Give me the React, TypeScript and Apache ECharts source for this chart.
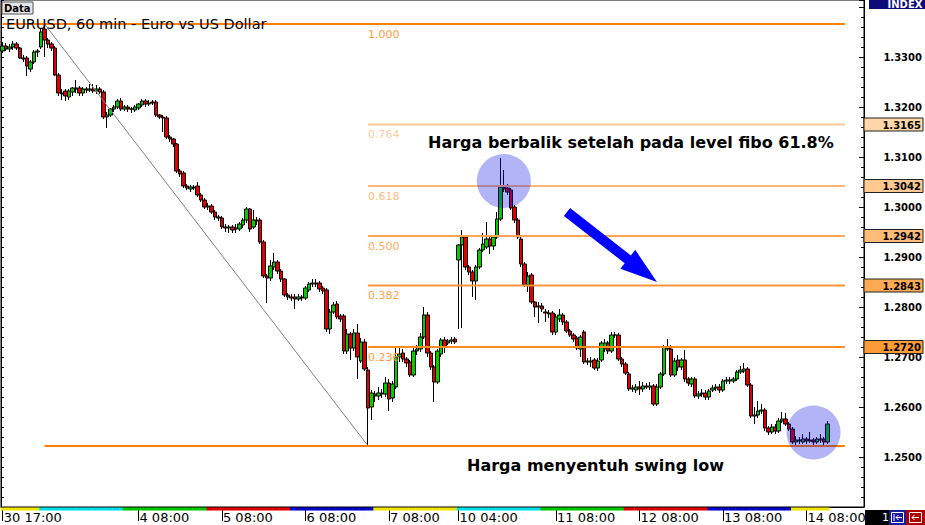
import React, { useEffect, useRef } from "react";
import * as echarts from "echarts";

type Bar = [number, number, number, number]; // [open, high, low, close]

// ---- EURUSD H1 candles, grouped by trading day ----
const day30: Bar[] = [
  [1.3312, 1.333, 1.3308, 1.3322], [1.3322, 1.3328, 1.3312, 1.3316], [1.3316, 1.3326, 1.331, 1.332],
  [1.332, 1.3332, 1.3314, 1.3326], [1.3326, 1.333, 1.3314, 1.3318], [1.3318, 1.332, 1.3296, 1.3298],
  [1.3298, 1.3304, 1.329, 1.3296],
];
const day03: Bar[] = [
  [1.3298, 1.3302, 1.3262, 1.3282], [1.3276, 1.3294, 1.327, 1.329], [1.329, 1.3314, 1.3286, 1.331],
  [1.331, 1.3316, 1.33, 1.3312], [1.332, 1.3356, 1.3316, 1.335], [1.3356, 1.3366, 1.33, 1.3334],
  [1.3334, 1.3338, 1.3318, 1.3326], [1.3326, 1.333, 1.3312, 1.3318], [1.3318, 1.3322, 1.3262, 1.3264],
  [1.3264, 1.3268, 1.3222, 1.3228], [1.3228, 1.3236, 1.3214, 1.3226], [1.3232, 1.3236, 1.3212, 1.3222],
  [1.322, 1.3236, 1.3214, 1.3232], [1.323, 1.324, 1.3222, 1.3238], [1.3238, 1.3254, 1.3228, 1.3236],
  [1.3238, 1.3242, 1.3222, 1.3228], [1.3228, 1.324, 1.3222, 1.3236], [1.3236, 1.324, 1.3228, 1.3234],
  [1.3234, 1.3246, 1.323, 1.3236], [1.3236, 1.3246, 1.3228, 1.3232], [1.3232, 1.3244, 1.3226, 1.3236],
  [1.3236, 1.324, 1.3226, 1.323], [1.323, 1.3234, 1.3176, 1.318], [1.318, 1.319, 1.3158, 1.3184],
];
const day04: Bar[] = [
  [1.3184, 1.3198, 1.318, 1.3196], [1.3196, 1.3204, 1.319, 1.32], [1.32, 1.3216, 1.3196, 1.3212],
  [1.3212, 1.3218, 1.3192, 1.3196], [1.3196, 1.3204, 1.3192, 1.32], [1.32, 1.3204, 1.319, 1.3196],
  [1.3196, 1.32, 1.3188, 1.3196], [1.3194, 1.3204, 1.319, 1.32], [1.3198, 1.3208, 1.3194, 1.3206],
  [1.3204, 1.3216, 1.32, 1.3212], [1.3212, 1.3216, 1.32, 1.3206], [1.3206, 1.3214, 1.3202, 1.3208],
  [1.321, 1.3214, 1.3204, 1.3208], [1.321, 1.3214, 1.318, 1.3184], [1.3184, 1.3186, 1.3176, 1.318],
  [1.318, 1.3184, 1.315, 1.3178], [1.3178, 1.3182, 1.3136, 1.314], [1.314, 1.3144, 1.313, 1.3136],
  [1.3136, 1.3138, 1.312, 1.3126], [1.3126, 1.3128, 1.3068, 1.3072], [1.3072, 1.3076, 1.306, 1.3066],
  [1.3068, 1.3072, 1.3038, 1.3042], [1.3042, 1.3046, 1.3034, 1.3038], [1.3036, 1.3044, 1.303, 1.304],
];
const day05: Bar[] = [
  [1.304, 1.3044, 1.3034, 1.3038], [1.3042, 1.305, 1.302, 1.3024], [1.3024, 1.3028, 1.301, 1.3014],
  [1.3014, 1.3018, 1.2996, 1.3], [1.3, 1.3008, 1.2994, 1.3002], [1.3002, 1.3006, 1.2986, 1.299],
  [1.299, 1.2994, 1.2974, 1.298], [1.298, 1.2984, 1.2972, 1.2978], [1.2978, 1.2982, 1.2956, 1.296],
  [1.296, 1.2966, 1.295, 1.2958], [1.2958, 1.2964, 1.2948, 1.296], [1.296, 1.2964, 1.2948, 1.2954],
  [1.2956, 1.2966, 1.2948, 1.2958], [1.2956, 1.297, 1.2952, 1.2966], [1.2964, 1.2978, 1.2958, 1.2974],
  [1.2974, 1.3, 1.2968, 1.2996], [1.2996, 1.2998, 1.295, 1.2956], [1.296, 1.2994, 1.2956, 1.2974],
  [1.2974, 1.298, 1.2964, 1.2972], [1.2974, 1.2978, 1.2926, 1.293], [1.293, 1.2934, 1.2858, 1.2862],
  [1.2862, 1.2866, 1.2808, 1.2858], [1.2858, 1.2894, 1.2852, 1.2882], [1.288, 1.2908, 1.2874, 1.289],
];
const day06: Bar[] = [
  [1.289, 1.2894, 1.2866, 1.2872], [1.2872, 1.2876, 1.285, 1.2856], [1.2856, 1.2858, 1.282, 1.2824],
  [1.2824, 1.2828, 1.2814, 1.282], [1.282, 1.2826, 1.2812, 1.2818], [1.282, 1.2826, 1.2796, 1.2816],
  [1.2816, 1.2826, 1.2812, 1.282], [1.282, 1.2824, 1.2812, 1.2818], [1.2818, 1.2842, 1.2814, 1.2838],
  [1.2834, 1.285, 1.283, 1.2846], [1.2846, 1.2856, 1.284, 1.2848], [1.2848, 1.2856, 1.284, 1.2846],
  [1.2848, 1.2852, 1.283, 1.2836], [1.2838, 1.2842, 1.2826, 1.2832], [1.2834, 1.2838, 1.275, 1.2756],
  [1.2756, 1.2796, 1.2746, 1.279], [1.279, 1.281, 1.2786, 1.2804], [1.2806, 1.2812, 1.2776, 1.278],
  [1.2782, 1.2786, 1.277, 1.2776], [1.2782, 1.2786, 1.2706, 1.2712], [1.2712, 1.2756, 1.2706, 1.2746],
  [1.2746, 1.275, 1.2694, 1.2718], [1.2718, 1.2756, 1.2712, 1.2748], [1.2748, 1.2766, 1.2656, 1.27],
];
const day07: Bar[] = [
  [1.2692, 1.2738, 1.2688, 1.273], [1.273, 1.2736, 1.2672, 1.2676], [1.2674, 1.268, 1.2522, 1.2598],
  [1.26, 1.2634, 1.2574, 1.2628], [1.2626, 1.2632, 1.261, 1.2622], [1.2622, 1.264, 1.2614, 1.2628],
  [1.2628, 1.2636, 1.2618, 1.2626], [1.2626, 1.266, 1.262, 1.2648], [1.2648, 1.2656, 1.2592, 1.2616],
  [1.2618, 1.2652, 1.261, 1.2646], [1.264, 1.2718, 1.2636, 1.27], [1.27, 1.2718, 1.269, 1.2706],
  [1.2708, 1.2716, 1.269, 1.2696], [1.2696, 1.27, 1.268, 1.2688], [1.269, 1.2694, 1.266, 1.2664],
  [1.2664, 1.272, 1.266, 1.2712], [1.2712, 1.2724, 1.2704, 1.2716], [1.2716, 1.2748, 1.271, 1.274],
  [1.274, 1.28, 1.2736, 1.2784], [1.2784, 1.279, 1.27, 1.2708], [1.2708, 1.2712, 1.2674, 1.268],
  [1.268, 1.2684, 1.261, 1.265], [1.265, 1.2716, 1.2646, 1.2712], [1.2706, 1.2738, 1.27, 1.2734],
];
const day10: Bar[] = [
  [1.2734, 1.274, 1.2708, 1.272], [1.2728, 1.2736, 1.2724, 1.2732], [1.2732, 1.274, 1.2726, 1.2734],
  [1.2736, 1.274, 1.2726, 1.273], [1.2894, 1.2926, 1.2756, 1.2924], [1.2924, 1.2954, 1.2758, 1.294],
  [1.294, 1.2944, 1.2874, 1.288], [1.288, 1.2884, 1.2864, 1.287], [1.287, 1.2874, 1.282, 1.2852],
  [1.2852, 1.2884, 1.2814, 1.288], [1.288, 1.2918, 1.2876, 1.2914], [1.2914, 1.2948, 1.291, 1.2926],
  [1.292, 1.297, 1.2916, 1.2936], [1.2936, 1.294, 1.2906, 1.2922], [1.2922, 1.2944, 1.2914, 1.294],
  [1.294, 1.299, 1.2936, 1.2976], [1.2976, 1.3098, 1.2972, 1.304], [1.304, 1.3074, 1.303, 1.3036],
  [1.3038, 1.3046, 1.3024, 1.303], [1.3034, 1.3038, 1.2994, 1.2998], [1.3, 1.3004, 1.2968, 1.2974],
  [1.2974, 1.2978, 1.2936, 1.294], [1.2936, 1.294, 1.288, 1.2886], [1.2886, 1.289, 1.284, 1.2844],
];
const day11: Bar[] = [
  [1.2844, 1.287, 1.283, 1.2862], [1.2864, 1.2868, 1.2806, 1.281], [1.281, 1.2812, 1.278, 1.28],
  [1.28, 1.281, 1.2768, 1.2802], [1.2802, 1.2808, 1.279, 1.2796], [1.279, 1.2796, 1.277, 1.2788],
  [1.2788, 1.2794, 1.2778, 1.2786], [1.2788, 1.2792, 1.2744, 1.275], [1.275, 1.2786, 1.2744, 1.278],
  [1.2776, 1.2796, 1.277, 1.2784], [1.2784, 1.2788, 1.2764, 1.277], [1.277, 1.2774, 1.2748, 1.2752],
  [1.2752, 1.2756, 1.274, 1.2744], [1.2744, 1.2748, 1.273, 1.2736], [1.2738, 1.2742, 1.2714, 1.2718],
  [1.2716, 1.2744, 1.27, 1.274], [1.275, 1.2754, 1.2686, 1.269], [1.269, 1.2698, 1.2684, 1.2692],
  [1.2692, 1.27, 1.268, 1.269], [1.2694, 1.2698, 1.2674, 1.2678], [1.2678, 1.2698, 1.2672, 1.2692],
  [1.2694, 1.2732, 1.269, 1.2728], [1.2716, 1.2736, 1.271, 1.2728], [1.2728, 1.2732, 1.2706, 1.2712],
];
const day12: Bar[] = [
  [1.2712, 1.275, 1.2708, 1.2744], [1.2744, 1.275, 1.2738, 1.2744], [1.2744, 1.2748, 1.2692, 1.2696],
  [1.2696, 1.27, 1.268, 1.2686], [1.2686, 1.269, 1.2664, 1.2668], [1.2666, 1.267, 1.2632, 1.2636],
  [1.2636, 1.2644, 1.263, 1.2638], [1.2634, 1.2646, 1.2628, 1.264], [1.264, 1.2652, 1.2624, 1.2636],
  [1.2636, 1.265, 1.263, 1.2642], [1.2642, 1.2648, 1.2636, 1.264], [1.264, 1.265, 1.2634, 1.2642],
  [1.2642, 1.2646, 1.2602, 1.2606], [1.2606, 1.2646, 1.2602, 1.264], [1.264, 1.267, 1.2636, 1.2666],
  [1.2666, 1.2724, 1.2662, 1.272], [1.272, 1.2736, 1.2712, 1.2716], [1.2716, 1.2724, 1.266, 1.2664],
  [1.2664, 1.2698, 1.266, 1.2692], [1.2694, 1.2704, 1.2672, 1.268], [1.268, 1.2698, 1.2674, 1.2694],
  [1.2694, 1.2714, 1.265, 1.2656], [1.2656, 1.266, 1.2642, 1.2648], [1.2646, 1.266, 1.264, 1.2656],
];
const day13: Bar[] = [
  [1.2656, 1.266, 1.2618, 1.2622], [1.2622, 1.2632, 1.2616, 1.2626], [1.2626, 1.2636, 1.262, 1.2628],
  [1.2628, 1.2634, 1.2614, 1.262], [1.262, 1.2636, 1.2614, 1.2632], [1.2634, 1.2644, 1.263, 1.2638],
  [1.2638, 1.2646, 1.2632, 1.264], [1.264, 1.2646, 1.2628, 1.2634], [1.2634, 1.2656, 1.263, 1.2652],
  [1.2652, 1.266, 1.2646, 1.2654], [1.2654, 1.266, 1.2646, 1.2652], [1.2652, 1.266, 1.2648, 1.2656],
  [1.2656, 1.2674, 1.2652, 1.267], [1.267, 1.2682, 1.2666, 1.2674], [1.2672, 1.2688, 1.2668, 1.2676],
  [1.2676, 1.268, 1.264, 1.2644], [1.2644, 1.2648, 1.2578, 1.2582], [1.2582, 1.26, 1.2566, 1.2584],
  [1.2584, 1.2612, 1.2578, 1.2592], [1.2592, 1.2606, 1.2586, 1.2594], [1.2594, 1.2598, 1.2552, 1.2558],
  [1.2558, 1.2562, 1.2544, 1.255], [1.255, 1.2566, 1.2546, 1.256], [1.256, 1.2566, 1.2546, 1.2552],
];
const day14: Bar[] = [
  [1.2552, 1.2578, 1.2548, 1.2572], [1.2572, 1.259, 1.2568, 1.2576], [1.2576, 1.2588, 1.2562, 1.2566],
  [1.2566, 1.257, 1.2552, 1.2556], [1.2556, 1.256, 1.2526, 1.253], [1.253, 1.2542, 1.252, 1.2534],
  [1.2534, 1.254, 1.2526, 1.2532], [1.253, 1.2546, 1.2526, 1.2536], [1.2536, 1.254, 1.2526, 1.2532],
  [1.2532, 1.255, 1.2528, 1.2534], [1.2534, 1.2538, 1.2524, 1.253], [1.253, 1.254, 1.2526, 1.2536],
  [1.2536, 1.2546, 1.2528, 1.2534], [1.2536, 1.254, 1.2524, 1.253], [1.253, 1.2572, 1.2526, 1.2566],
];

const sessions = [
  { day: "30", firstHour: 17, bars: day30 },
  { day: "3", firstHour: 0, bars: day03 },
  { day: "4", firstHour: 0, bars: day04 },
  { day: "5", firstHour: 0, bars: day05 },
  { day: "6", firstHour: 0, bars: day06 },
  { day: "7", firstHour: 0, bars: day07 },
  { day: "10", firstHour: 0, bars: day10 },
  { day: "11", firstHour: 0, bars: day11 },
  { day: "12", firstHour: 0, bars: day12 },
  { day: "13", firstHour: 0, bars: day13 },
  { day: "14", firstHour: 0, bars: day14 },
];
const emptySlots = 10; // chart shift on the right

const xTickLabels = [
  "30 17:00", "4 08:00", "5 08:00", "6 08:00", "7 08:00",
  "10 04:00", "11 08:00", "12 08:00", "13 08:00", "14 08:00",
];

// Fibonacci retracement
const fibRatios = [1, 0.764, 0.618, 0.5, 0.382, 0.236, 0];
const fibPrices = [1.3366, 1.3165, 1.3042, 1.2942, 1.2843, 1.272, 1.2522];
const swingHighIdx = 12;
const swingLowIdx = 105;
const fibEndIdx = 242;

const highlightCircles = [
  [144, 1.3052],
  [233, 1.2549],
];

const chartTitle = "EURUSD, 60 min - Euro vs US Dollar";
const noteTop = "Harga berbalik setelah pada level fibo 61.8%";
const noteBottom = "Harga menyentuh swing low";

// styles
const FONT = '"DejaVu Sans", Verdana, sans-serif';
const fibLineColors = ["#ff7f00", "#ffc898", "#ffb676", "#ffa454", "#ff9538", "#ff8a1e", "#ff7f00"];
const fibLabelColors = ["#ff9a3c", "#ffcca0", "#ffbc80", "#ffac62", "#ffa24c", "#ff9c40", ""];
const fibBoxColors = ["", "#ffd7a8", "#ffc991", "#ffbb78", "#ffaa55", "#ff9b36", ""];
const stripColors = ["#f0e400", "#00e0e8", "#00c800", "#e00000", "#0000c8"];

export default function App() {
  const ref = useRef<HTMLDivElement>(null);

  useEffect(() => {
    if (!ref.current) return;
    document.body.style.margin = "0";
    const chart = echarts.init(ref.current, undefined, { renderer: "svg" });

    const categories: string[] = [];
    const candles: number[][] = [];
    const strip: number[][] = [];
    let sess = 0;
    sessions.forEach((s) => {
      s.bars.forEach((b, k) => {
        const h = s.firstHour + k;
        if (h === 4 && categories.length > 0) sess++;
        const idx = categories.length;
        categories.push(`${s.day} ${String(h).padStart(2, "0")}:00`);
        candles.push([b[0], b[3], b[2], b[1]]);
        strip.push([idx, 1.25, sess % stripColors.length]);
      });
    });
    for (let k = 0; k < emptySlots; k++) categories.push(`+${k + 1}`);

    const fibStart = (k: number) =>
      fibRatios[k] === 1 ? 0 : fibRatios[k] === 0 ? swingHighIdx : swingLowIdx;
    const fibData = fibPrices.map((p, k) => [fibStart(k), p, k]);

    const showLabel = (_i: number, v: string) => xTickLabels.includes(v);

    const yBase = {
      type: "value",
      min: 1.24,
      max: 1.3414,
      interval: 0.01,
      scale: true,
      splitLine: { show: false },
      axisLine: { show: true, lineStyle: { color: "#000", width: 1 } },
    };

    const option: any = {
      animation: false,
      backgroundColor: "#fff",
      textStyle: { fontFamily: FONT },
      grid: {
        left: 1,
        right: 61,
        top: 0,
        bottom: 18,
        show: true,
        borderColor: "#000",
        borderWidth: 1,
        backgroundColor: "#fff",
      },
      xAxis: {
        type: "category",
        data: categories,
        boundaryGap: true,
        axisLine: { show: true, lineStyle: { color: "#000" } },
        axisTick: {
          show: true,
          alignWithLabel: true,
          interval: showLabel,
          length: 14,
          lineStyle: { color: "#000" },
        },
        axisLabel: {
          show: true,
          interval: showLabel,
          align: "left",
          margin: 4,
          padding: [0, 0, 0, 1],
          fontSize: 13,
          fontFamily: FONT,
          color: "#000",
        },
        splitLine: { show: false },
      },
      yAxis: [
        {
          ...yBase,
          position: "right",
          axisTick: { show: true, inside: true, length: 5, lineStyle: { color: "#000" } },
          minorTick: { show: true, splitNumber: 5, length: 3, lineStyle: { color: "#000" } },
          axisLabel: {
            show: true,
            inside: false,
            margin: 58,
            align: "right",
            fontFamily: FONT,
            fontWeight: "bold",
            fontSize: 10,
            color: "#000",
            formatter: (v: number) => (v > 1.245 && v < 1.335 ? v.toFixed(4) : ""),
          },
        },
        {
          ...yBase,
          position: "left",
          axisTick: { show: true, inside: true, length: 3, lineStyle: { color: "#000" } },
          minorTick: { show: true, splitNumber: 5, length: 3, lineStyle: { color: "#000" } },
          axisLabel: { show: false },
        },
      ],
      series: [
        {
          name: "EURUSD",
          type: "candlestick",
          data: candles,
          barWidth: 4,
          z: 2,
          itemStyle: {
            color: "#00cc00",
            color0: "#e00000",
            borderColor: "#000",
            borderColor0: "#000",
            borderColorDoji: "#000",
            borderWidth: 1,
          },
        },
        {
          name: "trend",
          type: "line",
          data: [
            [swingHighIdx, fibPrices[0]],
            [swingLowIdx, fibPrices[fibPrices.length - 1]],
          ],
          symbol: "none",
          z: 3,
          lineStyle: { color: "#808080", width: 1 },
        },
        {
          name: "sessions",
          type: "custom",
          data: strip,
          z: 3,
          renderItem: (params: any, api: any) => {
            const c = api.coord([api.value(0), 1.25]);
            const w = api.size([1, 0])[0];
            const cs = params.coordSys;
            return {
              type: "rect",
              shape: { x: c[0] - w / 2, y: cs.y + cs.height + 0.5, width: w + 0.4, height: 3 },
              style: { fill: stripColors[api.value(2)] },
            };
          },
        },
        {
          name: "fibo",
          type: "custom",
          data: fibData,
          z: 4,
          renderItem: (params: any, api: any) => {
            const start = api.value(0);
            const price = api.value(1);
            const k = api.value(2);
            const p0 = api.coord([start, price]);
            const p1 = api.coord([fibEndIdx, price]);
            const lx = api.coord([swingLowIdx, price])[0];
            const cs = params.coordSys;
            const children: any[] = [
              {
                type: "line",
                shape: { x1: p0[0], y1: p0[1], x2: p1[0], y2: p1[1] },
                style: { stroke: fibLineColors[k], lineWidth: 2 },
              },
            ];
            if (fibLabelColors[k]) {
              children.push({
                type: "text",
                x: lx,
                y: p0[1] + 10,
                style: {
                  text: fibRatios[k].toFixed(3),
                  fill: fibLabelColors[k],
                  font: `11px ${FONT}`,
                  align: "left",
                  verticalAlign: "middle",
                },
              });
            }
            if (fibBoxColors[k]) {
              const bx = cs.x + cs.width;
              children.push({
                type: "rect",
                shape: { x: bx, y: p0[1] - 6.5, width: 59, height: 13 },
                style: { fill: fibBoxColors[k], stroke: "#222", lineWidth: 1 },
              });
              children.push({
                type: "text",
                x: bx + 57,
                y: p0[1] + 0.5,
                style: {
                  text: price.toFixed(4),
                  fill: "#000",
                  font: `bold 10px ${FONT}`,
                  align: "right",
                  verticalAlign: "middle",
                },
              });
            }
            return { type: "group", children };
          },
        },
        {
          name: "highlights",
          type: "custom",
          data: highlightCircles,
          z: 5,
          renderItem: (_params: any, api: any) => {
            const c = api.coord([api.value(0), api.value(1)]);
            return {
              type: "circle",
              shape: { cx: c[0], cy: c[1], r: 27 },
              style: { fill: "rgba(20,20,230,0.32)" },
            };
          },
        },
      ],
      graphic: [
        {
          type: "text",
          x: 6,
          y: 24,
          z: 100,
          style: { text: chartTitle, font: `14.5px ${FONT}`, fill: "#000", verticalAlign: "middle" },
        },
        {
          type: "rect",
          z: 100,
          shape: { x: 2, y: 2, width: 31, height: 12 },
          style: { fill: "#e6e6e6", stroke: "#555", lineWidth: 1 },
        },
        {
          type: "text",
          x: 4,
          y: 8.5,
          z: 101,
          style: { text: "Data", font: `bold 10px ${FONT}`, fill: "#000", verticalAlign: "middle" },
        },
        {
          type: "rect",
          z: 100,
          shape: { x: 869, y: 0, width: 56, height: 9 },
          style: { fill: "#0b0b7a" },
        },
        {
          type: "text",
          x: 905,
          y: 4,
          z: 101,
          style: {
            text: "INDEX",
            font: `bold 10px ${FONT}`,
            fill: "#fff",
            align: "center",
            verticalAlign: "middle",
          },
        },
        {
          type: "polygon",
          z: 100,
          shape: {
            points: [
              [570.1, 208.1],
              [630.9, 255.4],
              [635.2, 249.8],
              [657, 282],
              [620.4, 268.8],
              [624.7, 263.2],
              [563.9, 216],
            ],
          },
          style: { fill: "#0000ff" },
        },
        {
          type: "text",
          x: 428,
          y: 142,
          z: 100,
          style: { text: noteTop, font: `bold 16px ${FONT}`, fill: "#000", verticalAlign: "middle" },
        },
        {
          type: "text",
          x: 467,
          y: 465,
          z: 100,
          style: { text: noteBottom, font: `bold 16px ${FONT}`, fill: "#000", verticalAlign: "middle" },
        },
        // bottom-right MT4 widgets
        { type: "rect", z: 100, shape: { x: 865, y: 510, width: 24, height: 15 }, style: { fill: "#000" } },
        {
          type: "text",
          x: 882,
          y: 517.5,
          z: 101,
          style: { text: "1", font: `11px ${FONT}`, fill: "#fff", verticalAlign: "middle" },
        },
        { type: "rect", z: 100, shape: { x: 889, y: 510, width: 17, height: 15 }, style: { fill: "#1c1c9c" } },
        {
          type: "rect",
          z: 101,
          shape: { x: 891.5, y: 512.5, width: 12, height: 10 },
          style: { fill: "none", stroke: "#fff", lineWidth: 1 },
        },
        {
          type: "polyline",
          z: 102,
          shape: { points: [[894, 514], [894, 521]] },
          style: { stroke: "#fff", lineWidth: 1 },
        },
        {
          type: "polyline",
          z: 102,
          shape: { points: [[902, 517.5], [896, 517.5]] },
          style: { stroke: "#fff", lineWidth: 1 },
        },
        {
          type: "polyline",
          z: 102,
          shape: { points: [[898.5, 515], [896, 517.5], [898.5, 520]] },
          style: { stroke: "#fff", lineWidth: 1, fill: "none" },
        },
        { type: "rect", z: 100, shape: { x: 906, y: 510, width: 19, height: 15 }, style: { fill: "#b00000" } },
        {
          type: "rect",
          z: 101,
          shape: { x: 909.5, y: 512.5, width: 12, height: 10 },
          style: { fill: "none", stroke: "#fff", lineWidth: 1 },
        },
        {
          type: "polyline",
          z: 102,
          shape: { points: [[919, 517.5], [912, 517.5]] },
          style: { stroke: "#fff", lineWidth: 1 },
        },
        {
          type: "polyline",
          z: 102,
          shape: { points: [[914.5, 515], [912, 517.5], [914.5, 520]] },
          style: { stroke: "#fff", lineWidth: 1, fill: "none" },
        },
      ],
    };

    chart.setOption(option);
    return () => chart.dispose();
  }, []);

  return (
    <div
      ref={ref}
      style={{ position: "fixed", left: 0, top: 0, width: 925, height: 525, background: "#fff" }}
    />
  );
}
